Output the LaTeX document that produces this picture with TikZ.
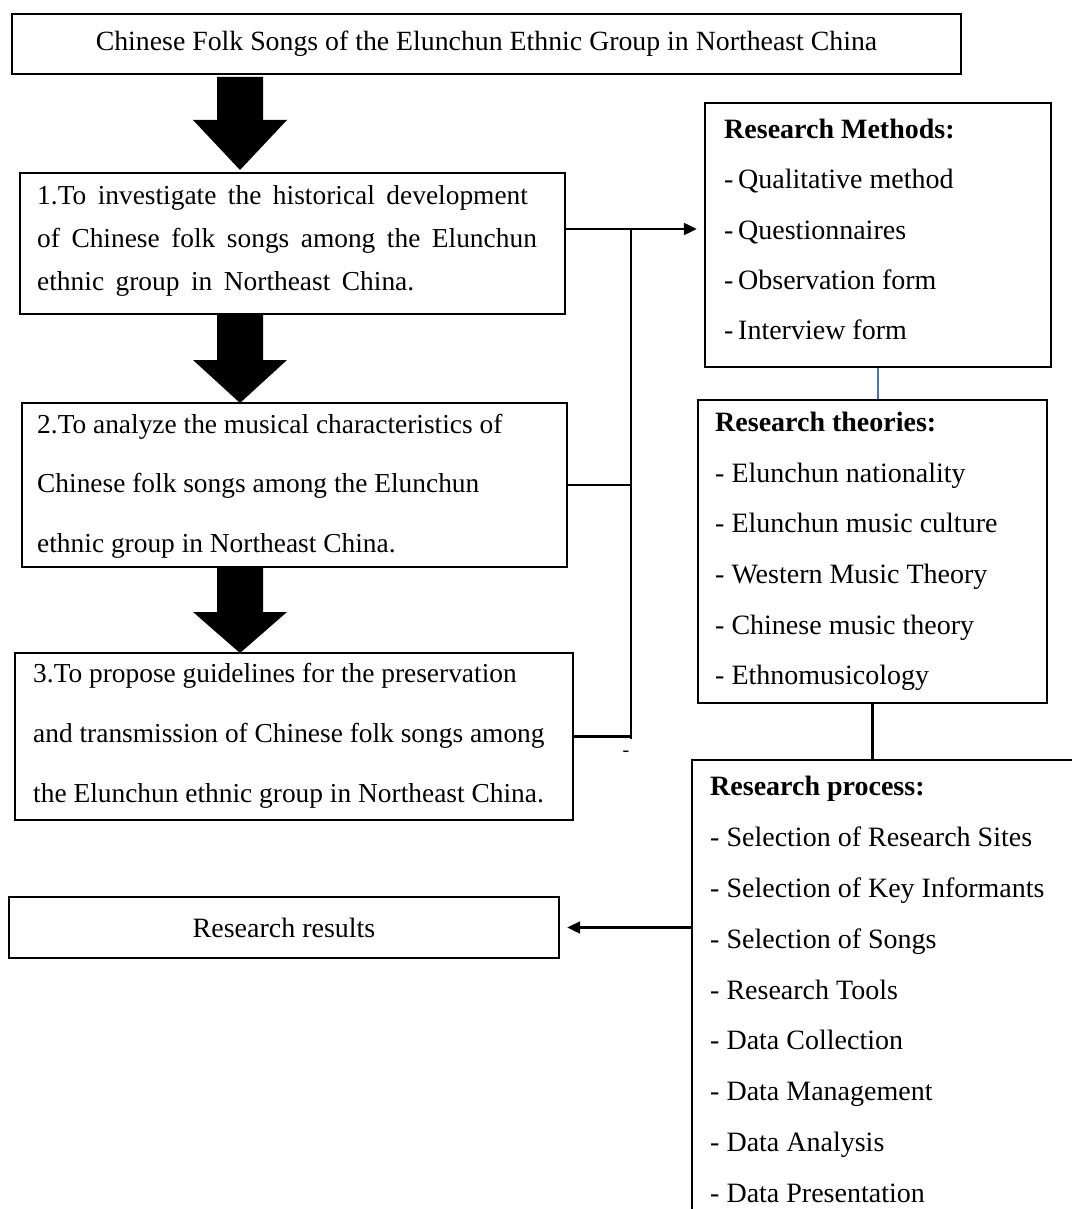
\documentclass[tikz,border=0pt]{standalone}
\usepackage{fontspec}
\setmainfont{Liberation Serif}
\usetikzlibrary{arrows.meta,calc}
\definecolor{linkblue}{RGB}{68,114,196}
\newcommand\widespacing{\spaceskip=11.5pt plus 2pt\relax}
\begin{document}
\begin{tikzpicture}[x=1pt,y=-1pt,
  box/.style={draw, line width=2.4pt, inner sep=0pt},
  conn/.style={line width=2.2pt},
  tipend/.style={-{Triangle[length=13pt,width=12pt]}},
  lt/.style={align=left, inner sep=0pt, anchor=west},
  bigarrow/.style={fill=black}]
\useasboundingbox[fill=white] (0,0) rectangle (1071,1209);

% boxes
\node[box, minimum width=949pt, minimum height=60pt, font=\fontsize{27.8}{33}\selectfont] (title) at (486.5,44) {Chinese Folk Songs of the Elunchun Ethnic Group in Northeast China};
\node[box, minimum width=545pt, minimum height=141pt] (b1) at (292.5,243.5) {};
\node[box, minimum width=545pt, minimum height=164pt] (b2) at (294.5,485) {};
\node[box, minimum width=558pt, minimum height=167pt] (b3) at (294,736.5) {};
\node[box, minimum width=346pt, minimum height=264pt] (m) at (878,235) {};
\node[box, minimum width=349pt, minimum height=303pt] (th) at (872.5,551.5) {};
\node[box, minimum width=388pt, minimum height=480pt] (pr) at (886,1000) {};
\node[box, minimum width=550pt, minimum height=61pt, font=\fontsize{28}{33}\selectfont] (res) at (284,927.5) {Research results};

% texts
\node[lt, font={\fontsize{27.4}{43}\selectfont\widespacing}] (t1) at (37,241) {1.To investigate the historical development\\of Chinese folk songs among the Elunchun\\ethnic group in Northeast China.};
\node[lt, font=\fontsize{27.4}{59.5}\selectfont] (t2) at (37,486.3) {2.To analyze the musical characteristics of\\Chinese folk songs among the Elunchun\\ethnic group in Northeast China.};
\node[lt, font=\fontsize{27.4}{60}\selectfont] (t3) at (33,736) {3.To propose guidelines for the preservation\\and transmission of Chinese folk songs among\\the Elunchun ethnic group in Northeast China.};
\node[lt, font=\fontsize{28}{50.25}\selectfont] (tm) at (724,229.5) {\textbf{Research Methods:}\\-\,Qualitative method\\-\,Questionnaires\\-\,Observation form\\-\,Interview form};
\node[lt, font=\fontsize{28}{50.6}\selectfont] (tth) at (715,551.5) {\textbf{Research theories:}\\- Elunchun nationality\\- Elunchun music culture\\- Western Music Theory\\- Chinese music theory\\- Ethnomusicology};
\node[lt, font=\fontsize{28}{50.9}\selectfont] (tpr) at (710,989.5) {\textbf{Research process:}\\- Selection of Research Sites\\- Selection of Key Informants\\- Selection of Songs\\- Research Tools\\- Data Collection\\- Data Management\\- Data Analysis\\- Data Presentation};

% block arrows
\fill[bigarrow] (217,77) -- (263,77) -- (263,120) -- (287,120) -- (240,170) -- (193,120) -- (217,120) -- cycle;
\fill[bigarrow] (217,315) -- (263,315) -- (263,360) -- (287,360) -- (240,403) -- (193,360) -- (217,360) -- cycle;
\fill[bigarrow] (217,567) -- (263,567) -- (263,612) -- (287,612) -- (240,653) -- (193,612) -- (217,612) -- cycle;

% connectors
\coordinate (j) at (631,229);
\coordinate (jend) at (631,739);
\draw[conn, tipend, shorten >=7pt] (j -| b1.east) -- (j -| m.west);
\draw[conn] (j) -- (jend);
\draw[conn] (b2.east) -- (b2.east -| j);
\draw[conn] (b3.east) -- (b3.east -| j);
\node[inner sep=0pt, font=\fontsize{20}{20}\selectfont] (dash) at (626,754) {-};
\draw[line width=1.6pt, linkblue] (m.south) -- (m.south |- th.north);
\draw[conn] (th.south) -- (th.south |- pr.north);
\draw[conn, tipend, shorten >=7pt] (res.east -| pr.west) -- (res.east);
\end{tikzpicture}
\end{document}
